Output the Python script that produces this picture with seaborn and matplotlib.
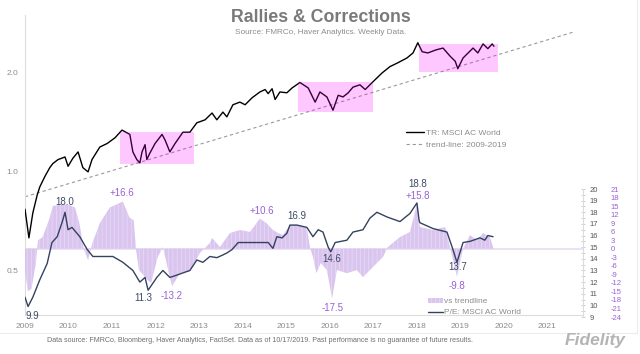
import matplotlib
matplotlib.use("Agg")
import matplotlib.pyplot as plt
from matplotlib.ticker import FixedLocator, MultipleLocator, NullFormatter
import seaborn as sns
import pandas as pd

# total return index, MSCI AC World (log scale)
tr_years = [2009.00, 2009.09, 2009.18, 2009.28, 2009.34, 2009.46, 2009.57, 2009.64, 2009.76, 2009.92,
            2009.99, 2010.10, 2010.22, 2010.33, 2010.45, 2010.54, 2010.72, 2010.89, 2011.07, 2011.23,
            2011.41, 2011.48, 2011.57, 2011.64, 2011.69, 2011.76, 2011.80, 2011.87, 2011.99, 2012.15,
            2012.22, 2012.33, 2012.45, 2012.63, 2012.79, 2012.95, 2013.14, 2013.30, 2013.41, 2013.55,
            2013.64, 2013.78, 2013.94, 2014.06, 2014.22, 2014.40, 2014.52, 2014.59, 2014.68, 2014.75,
            2014.86, 2015.02, 2015.14, 2015.32, 2015.51, 2015.67, 2015.78, 2015.94, 2016.08, 2016.20,
            2016.31, 2016.43, 2016.54, 2016.70, 2016.82, 2017.00, 2017.21, 2017.39, 2017.55, 2017.78,
            2017.92, 2018.03, 2018.13, 2018.26, 2018.45, 2018.61, 2018.77, 2018.89, 2018.95, 2019.07,
            2019.30, 2019.41, 2019.53, 2019.64, 2019.74, 2019.78]
tr_values = [0.77, 0.63, 0.75, 0.85, 0.90, 0.97, 1.03, 1.06, 1.09, 1.11,
             1.04, 1.10, 1.15, 1.03, 1.00, 1.09, 1.19, 1.22, 1.27, 1.34,
             1.30, 1.15, 1.09, 1.065, 1.15, 1.21, 1.09, 1.14, 1.22, 1.30,
             1.25, 1.15, 1.22, 1.32, 1.32, 1.41, 1.44, 1.51, 1.44, 1.52,
             1.47, 1.60, 1.63, 1.60, 1.68, 1.75, 1.78, 1.73, 1.79, 1.66,
             1.75, 1.74, 1.80, 1.87, 1.80, 1.63, 1.75, 1.69, 1.54, 1.71,
             1.69, 1.74, 1.81, 1.84, 1.78, 1.88, 2.00, 2.09, 2.14, 2.22,
             2.30, 2.47, 2.32, 2.30, 2.35, 2.38, 2.25, 2.17, 2.06, 2.22,
             2.38, 2.30, 2.45, 2.37, 2.45, 2.41]

trend_years = [2009.0, 2021.6]
trend_values = [0.84, 2.66]

# correction boxes
box_start = [2011.18, 2015.28, 2018.06]
box_end = [2012.89, 2017.00, 2019.87]
box_low = [1.06, 1.52, 2.01]
box_high = [1.32, 1.87, 2.45]

# P/E: MSCI AC World
pe_years = [2009.00, 2009.07, 2009.18, 2009.34, 2009.51, 2009.62, 2009.74, 2009.85, 2009.92, 2009.99,
            2010.08, 2010.26, 2010.43, 2010.56, 2010.89, 2011.02, 2011.25, 2011.48, 2011.64, 2011.76,
            2011.83, 2012.03, 2012.17, 2012.33, 2012.49, 2012.79, 2012.95, 2013.09, 2013.25, 2013.41,
            2013.53, 2013.64, 2013.76, 2013.90, 2014.01, 2014.17, 2014.40, 2014.59, 2014.70, 2014.79,
            2014.91, 2015.02, 2015.09, 2015.25, 2015.48, 2015.62, 2015.74, 2015.85, 2015.97, 2016.03,
            2016.13, 2016.40, 2016.54, 2016.77, 2016.93, 2017.09, 2017.32, 2017.62, 2017.85, 2018.01,
            2018.06, 2018.08, 2018.38, 2018.70, 2018.82, 2018.93, 2019.07, 2019.23, 2019.46, 2019.57,
            2019.64, 2019.76]
pe_values = [10.7, 9.9, 10.7, 12.2, 13.6, 15.4, 15.9, 17.1, 18.0, 16.5,
             16.7, 15.9, 14.8, 14.2, 14.2, 14.2, 13.7, 13.0, 12.0, 12.4,
             11.3, 12.4, 13.0, 12.4, 12.6, 13.0, 13.9, 13.7, 14.2, 14.1,
             14.3, 14.5, 14.8, 15.4, 15.4, 15.4, 15.4, 15.4, 14.9, 15.9,
             15.8, 16.2, 16.9, 16.9, 16.7, 15.9, 16.5, 16.3, 15.0, 14.6,
             15.4, 15.6, 16.3, 16.5, 17.5, 18.0, 17.6, 17.2, 17.9, 18.8,
             17.3, 17.1, 16.6, 16.3, 15.0, 13.7, 15.4, 15.5, 15.8, 15.6,
             16.0, 15.9]

# P/E vs trendline
vs_years = [2009.00, 2009.07, 2009.15, 2009.25, 2009.30, 2009.40, 2009.55, 2009.64, 2009.80, 2010.00,
            2010.15, 2010.25, 2010.35, 2010.45, 2010.55, 2010.72, 2010.95, 2011.25, 2011.40, 2011.50,
            2011.55, 2011.62, 2011.82, 2011.90, 2012.05, 2012.17, 2012.33, 2012.38, 2012.56, 2012.79,
            2013.02, 2013.25, 2013.30, 2013.48, 2013.71, 2013.94, 2014.17, 2014.29, 2014.40, 2014.55,
            2014.70, 2014.82, 2014.93, 2015.09, 2015.27, 2015.48, 2015.55, 2015.62, 2015.70, 2015.80,
            2015.94, 2016.06, 2016.17, 2016.40, 2016.63, 2016.77, 2017.00, 2017.23, 2017.32, 2017.34,
            2017.62, 2017.85, 2018.01, 2018.08, 2018.38, 2018.66, 2018.77, 2018.84, 2018.93, 2019.07,
            2019.23, 2019.39, 2019.53, 2019.69, 2019.76]
vs_values = [-8, -15, -14, -5, 3, 4, 10, 15, 15.5, 15.5,
             14.5, 9, 0, -4, 2, 9, 14.5, 16.6, 11, 10,
             0, -7.5, -11, -12, -3, 0.6, -10, -13.2, -8.6, -8,
             -1.5, 2, 3.8, 0.6, 5.5, 6.6, 5.9, 8.3, 10.6, 9,
             6.6, 5.5, 4.8, 8.3, 8.3, 7.3, 0.6, -2.9, -8.6, -5,
             -7.5, -17.5, -7.5, -8.6, -7.5, -10, -6.4, -2.9, 0, 0.6,
             4.1, 5.9, 15.8, 7.6, 6.6, 7.6, 0.6, -4, -9.8, 0,
             4.8, 3, 5.5, 4.1, 0.6]

pe_labels = ["9.9", "18.0", "11.3", "16.9", "14.6", "18.8", "13.7"]
pe_label_pos = [(2009.16, 9.1), (2009.92, 18.9), (2011.71, 10.6), (2015.25, 17.7),
                (2016.06, 14.0), (2018.03, 20.4), (2018.95, 13.3)]
vs_labels = ["+16.6", "-13.2", "+10.6", "-17.5", "+15.8", "-9.8"]
vs_label_pos = [(2011.23, 19.6), (2012.38, -16.6), (2014.45, 13.3), (2016.06, -20.9),
                (2018.03, 18.5), (2018.93, -13.1)]

year_ticks = list(range(2009, 2022))
pe_ticks = list(range(9, 21))
vs_ticks = list(range(-24, 22, 3))

GREY = "#8c8c8c"
NAVY = "#34425f"
PURPLE = "#9a5fd6"

sns.set_style("white")
plt.rcParams["font.family"] = ["Liberation Sans", "DejaVu Sans"]
plt.rcParams["hatch.linewidth"] = 0.4

W, H = 640, 354
fig = plt.figure(figsize=(6.4, 3.54), dpi=100)
x0, x1 = 25, 583
px_per_year = 43.5
xlim = (2009, 2009 + (x1 - x0) / px_per_year)

# ---- top panel: total return ----
ax = fig.add_axes([x0 / W, 1 - 315 / H, (x1 - x0) / W, 300 / H])
ax.set_yscale("log")
tr_df = pd.DataFrame({"year": tr_years, "value": tr_values})
trend_df = pd.DataFrame({"year": trend_years, "value": trend_values})
sns.lineplot(data=tr_df, x="year", y="value", ax=ax, color="black", lw=1.0,
             label="TR: MSCI AC World", zorder=3)
sns.lineplot(data=trend_df, x="year", y="value", ax=ax, color="#9a9a9a", lw=0.8,
             linestyle=(0, (3, 2.5)), label="trend-line: 2009-2019", zorder=2)
for s, e, lo, hi in zip(box_start, box_end, box_low, box_high):
    ax.fill_between([s, e], lo, hi, color="#ff00ff", alpha=0.22, lw=0, zorder=4)

ax.set_xlim(*xlim)
ax.set_ylim(0.367, 3.0)
ax.yaxis.set_major_locator(FixedLocator([0.5, 1.0, 2.0]))
ax.yaxis.set_minor_locator(FixedLocator([]))
ax.set_yticklabels(["0.5", "1.0", "2.0"])
ax.yaxis.set_minor_formatter(NullFormatter())
ax.set_xticks(year_ticks)
ax.set_xticklabels([str(y) for y in year_ticks])
ax.xaxis.set_minor_locator(MultipleLocator(1 / 6))
ax.tick_params(axis="x", which="both", direction="inout", length=3, width=0.6,
               color="#c8c8c8", labelsize=6, labelcolor=GREY, pad=4)
ax.tick_params(axis="y", which="major", direction="out", length=3, width=0.6,
               color="#c8c8c8", labelsize=6, labelcolor=GREY, pad=2)
ax.set_xlabel("")
ax.set_ylabel("")
for side in ["top", "right"]:
    ax.spines[side].set_visible(False)
for side in ["left", "bottom"]:
    ax.spines[side].set_color("#dcdcdc")
    ax.spines[side].set_linewidth(0.8)
ax.patch.set_alpha(0)
leg = ax.legend(loc="upper left", bbox_to_anchor=(398 / W, 1 - 122 / H),
                bbox_transform=fig.transFigure, frameon=False, fontsize=6,
                handlelength=2.2, handletextpad=0.3, labelspacing=0.5)
for t in leg.get_texts():
    t.set_color(GREY)

# ---- bottom panel: P/E and deviation from trend ----
ax_vs = fig.add_axes([x0 / W, 1 - 317 / H, (x1 - x0) / W, 128 / H])
ax_pe = ax_vs.twinx()
ax_vs.patch.set_alpha(0)
ax_vs.fill_between(vs_years, 0, vs_values, facecolor="#d8c2ef", edgecolor="#ede3f8",
                   hatch="||||", lw=0, alpha=0.95, label="vs trendline")
ax_vs.axhline(0, color="#e6dcf2", lw=1.2, zorder=0)
ax_vs.set_xlim(*xlim)
ax_vs.set_ylim(-24, 21)
ax_vs.yaxis.tick_right()
ax_vs.set_yticks(vs_ticks)
ax_vs.set_yticklabels([str(v) for v in vs_ticks])
ax_vs.tick_params(axis="y", length=0, labelsize=5.5, labelcolor=PURPLE, pad=20,
                  labelleft=False, labelright=True)
ax_vs.set_xticks([])
for side in ax_vs.spines:
    ax_vs.spines[side].set_visible(False)

pe_df = pd.DataFrame({"year": pe_years, "pe": pe_values})
sns.lineplot(data=pe_df, x="year", y="pe", ax=ax_pe, color=NAVY, lw=1.0,
             label="P/E: MSCI AC World")
ax_pe.set_xlim(*xlim)
ax_pe.set_ylim(9, 20)
ax_pe.set_yticks(pe_ticks)
ax_pe.set_yticklabels([str(v) for v in pe_ticks])
ax_pe.yaxis.set_minor_locator(MultipleLocator(0.5))
ax_pe.tick_params(axis="y", which="both", direction="inout", length=3, width=0.6,
                  color="#c8c8c8", labelsize=5.5, labelcolor="#555555", pad=3)
ax_pe.set_xlabel("")
ax_pe.set_ylabel("")
for side in ["top", "left", "bottom"]:
    ax_pe.spines[side].set_visible(False)
ax_pe.spines["right"].set_color("#dcdcdc")
ax_pe.spines["right"].set_linewidth(0.8)

for txt, (xx, yy) in zip(pe_labels, pe_label_pos):
    ax_pe.text(xx, yy, txt, fontsize=7, color="#3d4a66", ha="center", va="center")
for txt, (xx, yy) in zip(vs_labels, vs_label_pos):
    ax_vs.text(xx, yy, txt, fontsize=7, color=PURPLE, ha="center", va="center")

h1, l1 = ax_vs.get_legend_handles_labels()
h2, l2 = ax_pe.get_legend_handles_labels()
ax_pe.legend(h1 + h2, l1 + l2, loc="upper left", bbox_to_anchor=(420 / W, 1 - 290 / H),
             bbox_transform=fig.transFigure, frameon=False, fontsize=6,
             handlelength=1.8, handletextpad=0.2, labelspacing=0.4, labelcolor=GREY)

# ---- titles, footer ----
fig.text(321 / W, 1 - 17 / H, "Rallies & Corrections", ha="center", va="center",
         fontsize=12.8, fontweight="bold", color="#7a7a7a")
fig.text(321 / W, 1 - 33 / H, "Source: FMRCo, Haver Analytics. Weekly Data.",
         ha="center", va="center", fontsize=5.9, color=GREY)
fig.text(260 / W, 1 - 341 / H,
         "Data source: FMRCo, Bloomberg, Haver Analytics, FactSet. Data as of 10/17/2019. "
         "Past performance is no guarantee of future results.",
         ha="center", va="center", fontsize=5.1, color="#6f6f6f")
fig.text(595 / W, 1 - 341 / H, "Fidelity", ha="center", va="center", fontsize=12.5,
         fontweight="bold", fontstyle="italic", color="#b4b4b4")
fig.add_artist(plt.Line2D([0, 637 / W], [1 - 333 / H] * 2, color="#ececec", lw=0.8))
fig.add_artist(plt.Line2D([637 / W] * 2, [1 - 333 / H, 1], color="#ececec", lw=0.8))

fig.savefig("out.png", dpi=100)
